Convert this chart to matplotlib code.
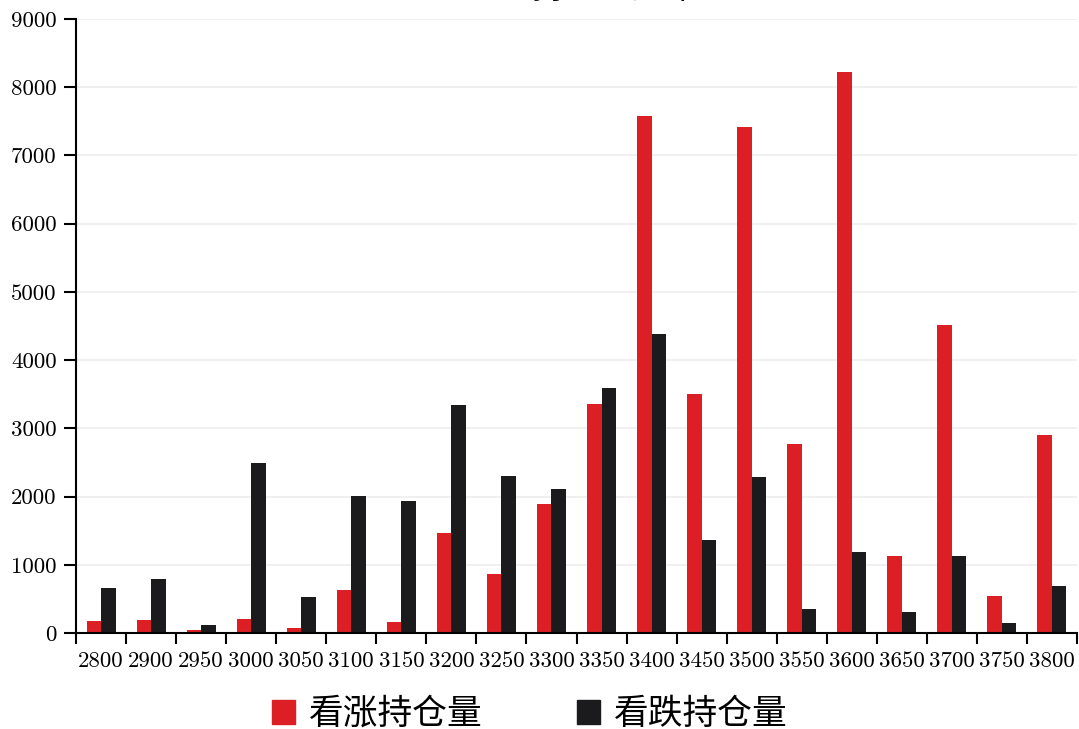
import matplotlib
matplotlib.use('Agg')
import matplotlib.pyplot as plt
from matplotlib.patches import Patch
from numpy import arange

plt.rcParams['font.family'] = ['cmr10', 'Noto Sans CJK SC', 'DejaVu Sans']
plt.rcParams['axes.formatter.use_mathtext'] = True

#DATA=====================================================
strikes = ['2800', '2900', '2950', '3000', '3050', '3100', '3150', '3200', '3250', '3300',
           '3350', '3400', '3450', '3500', '3550', '3600', '3650', '3700', '3750', '3800']
call_oi = [170, 185, 40, 210, 75, 625, 160, 1460, 865, 1895,
           3360, 7585, 3505, 7415, 2770, 8225, 1135, 4515, 540, 2900]
put_oi = [665, 790, 115, 2485, 525, 2010, 1935, 3340, 2295, 2110,
          3590, 4380, 1370, 2285, 350, 1190, 310, 1130, 145, 690]
y_ticks = [0, 1000, 2000, 3000, 4000, 5000, 6000, 7000, 8000, 9000]
labels = ['看涨持仓量', '看跌持仓量']
title = '持仓量分布'

RED = '#dc1f24'
BLACK = '#1b1a1c'

#PLOT=====================================================
fig = plt.figure(figsize=(10.79, 7.29), dpi=100)
ax = fig.add_axes([76/1079, 1 - 633/729, 1001/1079, 614/729])

x = arange(len(strikes))
w = 0.29
ax.bar(x - w/2, call_oi, width=w, color=RED, zorder=3)
ax.bar(x + w/2, put_oi, width=w, color=BLACK, zorder=3)

ax.set_xlim(-0.5, len(strikes) - 0.5)
ax.set_ylim(0, 9000)

# category labels centered, ticks on the boundaries
ax.set_xticks(x)
ax.set_xticklabels(strikes, fontsize=16.5)
ax.set_xticks(arange(len(strikes) + 1) - 0.5, minor=True)
ax.tick_params(axis='x', which='major', length=0, pad=13)
ax.tick_params(axis='x', which='minor', length=8, width=1.5, direction='out', color='black')

ax.set_yticks(y_ticks)
ax.set_yticklabels([str(v) for v in y_ticks], fontsize=16.5)
ax.tick_params(axis='y', length=9, width=1.5, pad=5, color='black')

ax.grid(axis='y', color='#eeeeee', linewidth=1.2, zorder=0)
for s in ['top', 'right']:
    ax.spines[s].set_visible(False)
for s in ['left', 'bottom']:
    ax.spines[s].set_linewidth(1.5)
    ax.spines[s].set_zorder(4)

handles = [Patch(color=RED), Patch(color=BLACK)]
fig.legend(handles, labels, loc='lower center', bbox_to_anchor=(530/1079, -0.047), ncol=2,
           frameon=False, prop={'family': 'Noto Sans CJK SC', 'size': 25},
           handlelength=0.68, handleheight=0.68, handletextpad=0.4, columnspacing=2.7)

# title sits mostly above the visible canvas
fig.text(615/1079, 1.003, title, ha='center', va='baseline', fontsize=24,
         family='Noto Sans CJK SC')

fig.savefig('out.png', dpi=100)
